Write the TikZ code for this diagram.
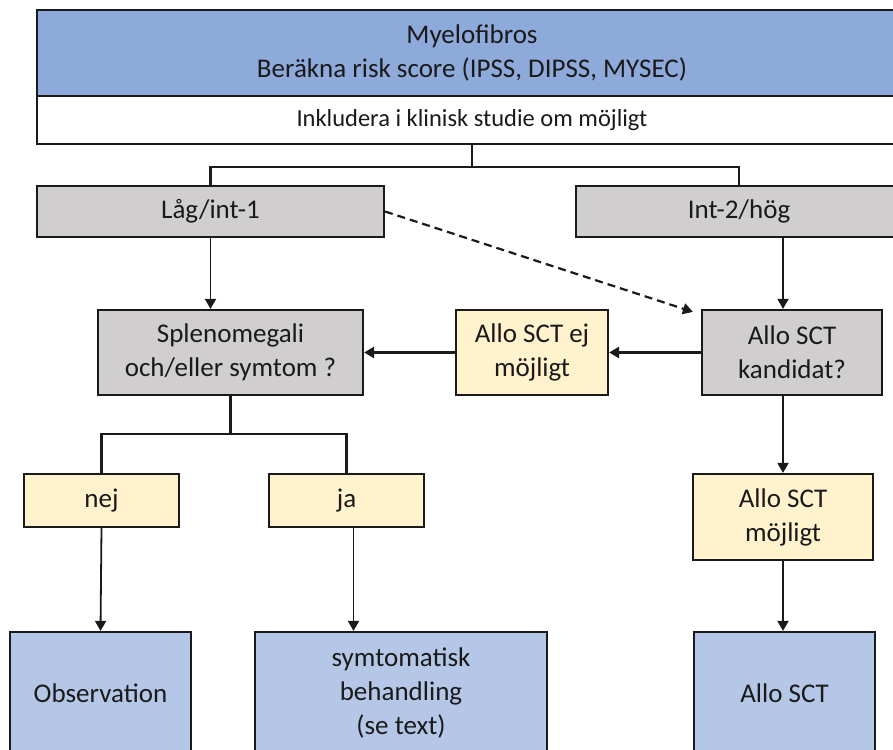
\documentclass[tikz,border=0pt]{standalone}
\usepackage{fontspec}
\setmainfont{Carlito}
\usetikzlibrary{arrows.meta,calc}
\definecolor{topblue}{HTML}{8EAADB}
\definecolor{lightblue}{HTML}{B4C7E7}
\definecolor{boxgrey}{HTML}{D0CECE}
\definecolor{boxyellow}{HTML}{FFF2CC}
\definecolor{ink}{HTML}{1A1A1A}
\begin{document}
\begin{tikzpicture}[x=1pt,y=-1pt,
  box/.style={draw=ink,line width=2.2pt,text=ink,align=center,inner sep=0pt,
    font=\fontsize{27}{34}\selectfont},
  tree/.style={draw=ink,line width=2.6pt},
  harrow/.style={draw=ink,line width=2.6pt,-{Triangle[width=11pt,length=10pt]}},
  varrow/.style={draw=ink,line width=1.8pt,-{Triangle[width=11pt,length=10pt]}},
  darrow/.style={draw=ink,line width=2.2pt,dash pattern=on 8pt off 5pt,-{Triangle[width=11pt,length=10pt]}}]
\useasboundingbox (0,0) rectangle (893,749);
\clip (0,0) rectangle (893,749);
\fill[white] (0,0) rectangle (893,749);
% nodes
\node[box,fill=topblue,minimum width=870pt,minimum height=86pt] (top) at (472,53)
  {Myelofibros\\Beräkna risk score (IPSS, DIPSS, MYSEC)};
\node[box,fill=white,minimum width=870pt,minimum height=48pt,font=\fontsize{24.5}{30}\selectfont] (incl) at (472,120)
  {Inkludera i klinisk studie om möjligt};
\node[box,fill=boxgrey,minimum width=347pt,minimum height=51pt] (lag) at (210.5,211.5) {Låg/int-1};
\node[box,fill=boxgrey,minimum width=326pt,minimum height=51pt] (hog) at (739,211.5) {Int-2/hög};
\node[box,fill=boxgrey,minimum width=265pt,minimum height=85pt] (spl) at (230.5,352.5) {Splenomegali\\och/eller symtom ?};
\node[box,fill=boxyellow,minimum width=152pt,minimum height=85pt] (ej) at (532,352.5) {Allo SCT ej\\möjligt};
\node[box,fill=boxgrey,minimum width=180pt,minimum height=85pt] (kand) at (792,352.5) {Allo SCT\\kandidat?};
\node[box,fill=boxyellow,minimum width=155pt,minimum height=53pt] (nej) at (101.5,500.5) {nej};
\node[box,fill=boxyellow,minimum width=155pt,minimum height=53pt] (ja) at (346.5,500.5) {ja};
\node[box,fill=boxyellow,minimum width=180pt,minimum height=86pt] (moj) at (783,517) {Allo SCT\\möjligt};
\node[box,fill=lightblue,minimum width=181pt,minimum height=122pt] (obs) at (100.5,693) {Observation};
\node[box,fill=lightblue,minimum width=292pt,minimum height=122pt] (sym) at (401,693) {symtomatisk\\behandling\\(se text)};
\node[box,fill=lightblue,minimum width=181pt,minimum height=122pt] (allo) at (784.5,693) {Allo SCT};
% connectors
\coordinate (j1) at ($(incl.south)+(0,22)$);
\draw[tree] (incl.south) -- (j1);
\draw[tree] (lag.north) |- (j1) -| (hog.north);
\coordinate (j2) at ($(spl.south)+(0,38)$);
\draw[tree] (spl.south) -- (j2);
\draw[tree] (nej.north) |- (j2) -| (ja.north);
\draw[varrow] (lag.south) -- (lag.south |- spl.north);
\draw[varrow] (hog.south -| moj.north) -- (kand.north -| moj.north);
\draw[varrow] (kand.south -| moj.north) -- (moj.north);
\draw[varrow] (moj.south) -- (allo.north -| moj.south);
\draw[varrow] (nej.south) -- (obs.north);
\draw[varrow] ([xshift=7pt]ja.south) -- ([xshift=7pt]ja.south |- sym.north);
\draw[harrow] (kand.west) -- (ej.east);
\draw[harrow] (ej.west) -- (spl.east);
\draw[darrow] (lag.east) -- ($(kand.north west)+(-8,3)$);
\end{tikzpicture}
\end{document}
